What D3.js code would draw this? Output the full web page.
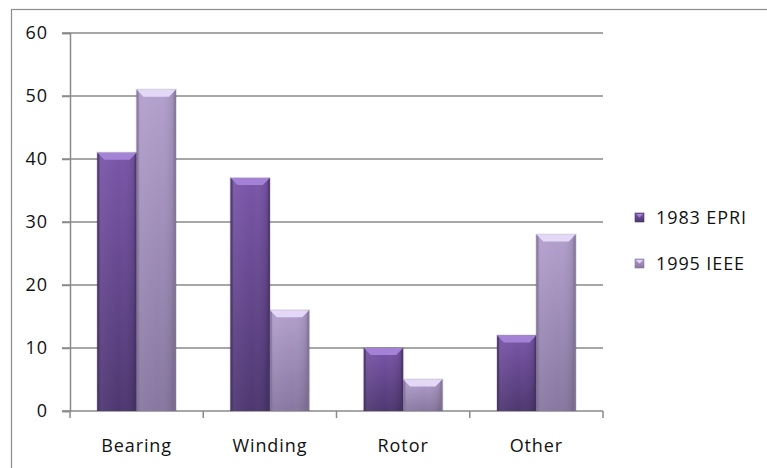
<!DOCTYPE html>
<html>
<head>
<meta charset="utf-8">
<script src="https://cdn.jsdelivr.net/npm/d3@7"></script>
<style>
  body { margin: 0; background: #fff; }
  svg text { font-family: "Open Sans", sans-serif; font-size: 18px; letter-spacing: 0.9px; fill: #111; }
</style>
</head>
<body>
<div id="chart"></div>
<script>
(function () {
    "use strict";

    var categories = ['Bearing', 'Winding', 'Rotor', 'Other'];
    var seriesNames = ['1983 EPRI', '1995 IEEE'];
    var epri1983 = [41, 37, 10, 12];
    var ieee1995 = [51, 16, 5, 28];
    var yTicks = [0, 10, 20, 30, 40, 50, 60];

    var width = 767, height = 468;
    var plot = { left: 70, right: 603, top: 33, bottom: 411 };

    var svg = d3.select('#chart').append('svg')
        .attr('width', width)
        .attr('height', height);

    // outer chart border
    svg.append('rect')
        .attr('x', 11.5).attr('y', 9.5)
        .attr('width', width + 10).attr('height', height + 10)
        .attr('fill', 'none').attr('stroke', '#8c8c8c').attr('stroke-width', 1.2);

    var defs = svg.append('defs');
    var palettes = [
        { top: '#7a56a9', bottom: '#4e3771', bevel: '#a483d6', side: '#4a3469' },
        { top: '#b3a0cd', bottom: '#8877a0', bevel: '#e4d8f7', side: '#85759c' }
    ];
    palettes.forEach(function (p, i) {
        var g = defs.append('linearGradient').attr('id', 'grad' + i)
            .attr('x1', 0).attr('y1', 0).attr('x2', 0).attr('y2', 1);
        g.append('stop').attr('offset', '0%').attr('stop-color', p.top);
        g.append('stop').attr('offset', '100%').attr('stop-color', p.bottom);
        var h = defs.append('linearGradient').attr('id', 'shade' + i)
            .attr('x1', 0).attr('y1', 0).attr('x2', 1).attr('y2', 0);
        h.append('stop').attr('offset', '0%').attr('stop-color', '#000').attr('stop-opacity', 0.18);
        h.append('stop').attr('offset', '12%').attr('stop-color', '#fff').attr('stop-opacity', 0.05);
        h.append('stop').attr('offset', '55%').attr('stop-color', '#fff').attr('stop-opacity', 0.0);
        h.append('stop').attr('offset', '90%').attr('stop-color', '#000').attr('stop-opacity', 0.08);
        h.append('stop').attr('offset', '100%').attr('stop-color', '#000').attr('stop-opacity', 0.22);
    });

    var x = d3.scaleBand()
        .domain(categories)
        .range([plot.left, plot.right])
        .paddingInner(0.41).paddingOuter(0.205);

    var x1 = d3.scaleBand()
        .domain(seriesNames)
        .range([0, x.bandwidth()]);

    var y = d3.scaleLinear()
        .domain([0, 60])
        .range([plot.bottom, plot.top]);

    // gridlines
    svg.append('g').selectAll('line')
        .data(yTicks)
        .enter().append('line')
        .attr('x1', plot.left - 8).attr('x2', plot.right)
        .attr('y1', function (d) { return y(d); })
        .attr('y2', function (d) { return y(d); })
        .attr('stroke', '#8a8a8a').attr('stroke-width', 1.5);

    // y axis
    var yAxis = d3.axisLeft(y).tickValues(yTicks).tickSize(8).tickPadding(14);
    var gy = svg.append('g').attr('transform', 'translate(' + plot.left + ',0)').call(yAxis);
    gy.attr('font-size', null).attr('font-family', null);
    gy.select('.domain').attr('stroke', '#8a8a8a').attr('stroke-width', 1.5);
    gy.selectAll('.tick line').attr('stroke', '#8a8a8a').attr('stroke-width', 1.5);
    gy.selectAll('text').attr('fill', '#111');

    // x axis
    var xTickPos = categories.map(function (c) { return x(c) - x.step() * x.paddingInner() / 2; });
    xTickPos.push(plot.right);
    svg.append('g').selectAll('line')
        .data(xTickPos)
        .enter().append('line')
        .attr('x1', function (d) { return d; }).attr('x2', function (d) { return d; })
        .attr('y1', plot.bottom).attr('y2', plot.bottom + 7)
        .attr('stroke', '#8a8a8a').attr('stroke-width', 1.5);

    svg.append('g').selectAll('text')
        .data(categories)
        .enter().append('text')
        .attr('x', function (d) { return x(d) + x.bandwidth() / 2; })
        .attr('y', 452)
        .attr('text-anchor', 'middle')
        .text(function (d) { return d; });

    // bars
    var series = [epri1983, ieee1995];
    var bevel = 7;
    series.forEach(function (values, si) {
        var p = palettes[si];
        var g = svg.append('g').attr('class', 'series-' + si);
        var bars = g.selectAll('g.bar')
            .data(values.map(function (v, i) { return { cat: categories[i], value: v }; }))
            .enter().append('g').attr('class', 'bar');

        function bx(d) { return x(d.cat) + x1(seriesNames[si]); }
        var bw = x1.bandwidth();

        // soft shadow
        bars.append('rect')
            .attr('x', function (d) { return bx(d) - 1; })
            .attr('y', function (d) { return y(d.value) - 1; })
            .attr('width', bw + 2)
            .attr('height', function (d) { return plot.bottom - y(d.value) + 1; })
            .attr('fill', '#000').attr('opacity', 0.12);

        bars.append('rect')
            .attr('x', bx)
            .attr('y', function (d) { return y(d.value); })
            .attr('width', bw)
            .attr('height', function (d) { return plot.bottom - y(d.value); })
            .attr('fill', 'url(#grad' + si + ')');

        bars.append('rect')
            .attr('x', bx)
            .attr('y', function (d) { return y(d.value); })
            .attr('width', bw)
            .attr('height', function (d) { return plot.bottom - y(d.value); })
            .attr('fill', 'url(#shade' + si + ')');

        // top bevel
        bars.append('polygon')
            .attr('points', function (d) {
                var x0 = bx(d), y0 = y(d.value);
                return [[x0, y0], [x0 + bw, y0], [x0 + bw - bevel, y0 + bevel], [x0 + bevel, y0 + bevel]].join(' ');
            })
            .attr('fill', p.bevel);

        // side bevels
        bars.append('polygon')
            .attr('points', function (d) {
                var x0 = bx(d), y0 = y(d.value);
                return [[x0, y0], [x0 + 2, y0 + 2], [x0 + 2, plot.bottom], [x0, plot.bottom]].join(' ');
            })
            .attr('fill', p.side).attr('opacity', 0.7);
        bars.append('polygon')
            .attr('points', function (d) {
                var x0 = bx(d) + bw, y0 = y(d.value);
                return [[x0, y0], [x0 - 2, y0 + 2], [x0 - 2, plot.bottom], [x0, plot.bottom]].join(' ');
            })
            .attr('fill', p.side).attr('opacity', 0.7);
    });

    // legend
    var legend = svg.append('g').selectAll('g')
        .data(seriesNames)
        .enter().append('g')
        .attr('transform', function (d, i) { return 'translate(635,' + (213 + i * 46) + ')'; });
    legend.append('rect')
        .attr('width', 9).attr('height', 9)
        .attr('fill', function (d, i) { return 'url(#grad' + i + ')'; })
        .attr('stroke', function (d, i) { return palettes[i].side; }).attr('stroke-width', 0.6);
    legend.append('polygon')
        .attr('points', '1,1 8,1 4.5,4.5')
        .attr('fill', function (d, i) { return palettes[i].bevel; });
    legend.append('text')
        .attr('x', 21).attr('y', 11)
        .text(function (d) { return d; });
})();
</script>
</body>
</html>
